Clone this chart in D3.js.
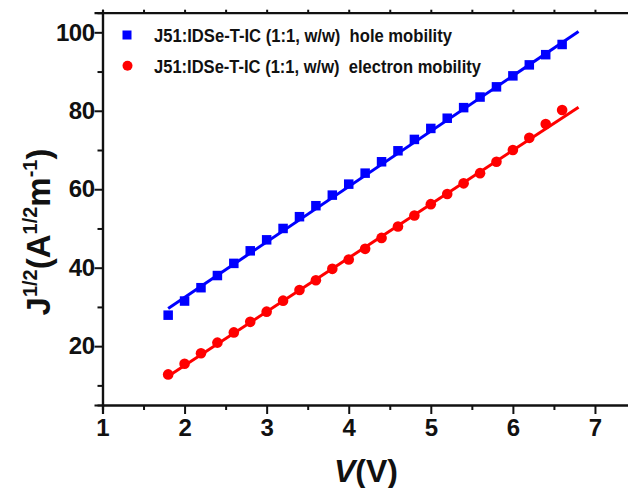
<!DOCTYPE html>
<html>
<head>
<meta charset="utf-8">
<script src="https://cdn.jsdelivr.net/npm/d3@7"></script>
<style>
  html, body { margin: 0; padding: 0; background: #fff; }
  svg { display: block; }
  text { font-family: "Liberation Sans", Arial, sans-serif; font-weight: bold; fill: #111; }
</style>
</head>
<body>
<svg id="chart" width="628" height="488"></svg>
<script>
// ---- data ----
const voltage = [1.8, 2.0, 2.2, 2.4, 2.6, 2.8, 3.0, 3.2, 3.4, 3.6, 3.8, 4.0, 4.2, 4.4, 4.6, 4.8, 5.0, 5.2, 5.4, 5.6, 5.8, 6.0, 6.2, 6.4, 6.6];
const holeJ = [27.9, 31.5, 34.9, 38.0, 41.1, 44.3, 47.1, 50.0, 53.0, 55.8, 58.5, 61.3, 64.1, 67.0, 69.8, 72.7, 75.5, 78.1, 80.8, 83.5, 86.1, 88.9, 91.7, 94.3, 96.9];
const electronJ = [12.8, 15.5, 18.2, 20.9, 23.5, 26.2, 28.8, 31.6, 34.3, 36.8, 39.7, 42.1, 44.8, 47.6, 50.5, 53.3, 56.2, 58.8, 61.5, 64.1, 67.0, 70.0, 73.1, 76.6, 80.2];
const fitV = [1.8, 6.8];
const holeFit = [29.6, 100.2];
const electronFit = [12.3, 80.9];
const xTicks = [1, 2, 3, 4, 5, 6, 7];
const xMinor = [1.5, 2.5, 3.5, 4.5, 5.5, 6.5, 7.5];
const yTicks = [20, 40, 60, 80, 100];
const yMinor = [10, 30, 50, 70, 90];
const legendLabels = ["J51:IDSe-T-IC (1:1, w/w)  hole mobility", "J51:IDSe-T-IC (1:1, w/w)  electron mobility"];

const BLUE = "#0000ff", RED = "#ff0000";

const svg = d3.select("#chart");
const x = d3.scaleLinear().domain([1, 7.5]).range([102.5, 636]);
const y = d3.scaleLinear().domain([5, 105]).range([405, 12.7]);

// axes
const gx = svg.append("g").attr("transform", `translate(0,${y(5)})`);
gx.call(d3.axisBottom(x).tickValues(xTicks).tickSize(9).tickFormat(d3.format("d")));
gx.append("g").call(d3.axisBottom(x).tickValues(xMinor).tickSize(5).tickFormat(""));
const gy = svg.append("g").attr("transform", `translate(${x(1)},0)`);
gy.call(d3.axisLeft(y).tickValues(yTicks).tickSize(8).tickFormat(d3.format("d")));
gy.append("g").call(d3.axisLeft(y).tickValues(yMinor).tickSize(5).tickFormat(""));
const gt = svg.append("g").attr("transform", `translate(0,${y(105)})`);
gt.call(d3.axisTop(x).tickValues(xTicks.concat(xMinor)).tickSize(3).tickFormat(""));

svg.selectAll(".domain").attr("stroke", "#111").attr("stroke-width", 2.2);
svg.selectAll(".tick line").attr("stroke", "#111").attr("stroke-width", 2);
gx.selectAll(".tick text").attr("font-size", 24).attr("dy", "0.78em").attr("font-family", "Liberation Sans, Arial").attr("font-weight", "bold").attr("fill", "#111");
gy.selectAll(".tick text").attr("font-size", 24).attr("font-family", "Liberation Sans, Arial").attr("font-weight", "bold").attr("fill", "#111").attr("x", -8).attr("letter-spacing", -0.5);

// fit lines
const line = d3.line().x(d => x(d[0])).y(d => y(d[1]));
svg.append("path").datum(fitV.map((v, i) => [v, holeFit[i]])).attr("d", line)
  .attr("stroke", BLUE).attr("stroke-width", 3).attr("fill", "none");
svg.append("path").datum(fitV.map((v, i) => [v, electronFit[i]])).attr("d", line)
  .attr("stroke", RED).attr("stroke-width", 3).attr("fill", "none");

// markers
const sq = 9.5;
svg.append("g").selectAll("rect").data(voltage.map((v, i) => [v, holeJ[i]])).join("rect")
  .attr("x", d => x(d[0]) - sq / 2).attr("y", d => y(d[1]) - sq / 2)
  .attr("width", sq).attr("height", sq).attr("fill", BLUE);
svg.append("g").selectAll("circle").data(voltage.map((v, i) => [v, electronJ[i]])).join("circle")
  .attr("cx", d => x(d[0])).attr("cy", d => y(d[1])).attr("r", 5.3).attr("fill", RED);

// legend
const lg = svg.append("g");
lg.append("rect").attr("x", 127 - 4.5).attr("y", 35 - 4.5).attr("width", 9).attr("height", 9).attr("fill", BLUE);
lg.append("circle").attr("cx", 127.5).attr("cy", 65.7).attr("r", 5).attr("fill", RED);
const lw = [298, 327];
legendLabels.forEach((t, i) => {
  lg.append("text").attr("x", 154).attr("y", 42 + i * 30.7)
    .attr("font-size", 19).attr("textLength", lw[i]).attr("lengthAdjust", "spacingAndGlyphs")
    .style("white-space", "pre").text(t);
});

// y label
const yl = svg.append("text").attr("transform", "translate(50,232) rotate(-90)")
  .attr("text-anchor", "middle").attr("font-size", 33);
yl.append("tspan").text("J");
yl.append("tspan").attr("font-size", 20).attr("dy", -13).text("1/2");
yl.append("tspan").attr("dy", 13).text("(A");
yl.append("tspan").attr("font-size", 20).attr("dy", -13).text("1/2");
yl.append("tspan").attr("dy", 13).text("m");
yl.append("tspan").attr("font-size", 20).attr("dy", -13).text("-1");
yl.append("tspan").attr("dy", 13).text(")");

// x label
const xl = svg.append("text").attr("x", 366).attr("y", 482).attr("text-anchor", "middle").attr("font-size", 32);
xl.append("tspan").attr("font-style", "italic").text("V");
xl.append("tspan").text("(V)");
</script>
</body>
</html>
